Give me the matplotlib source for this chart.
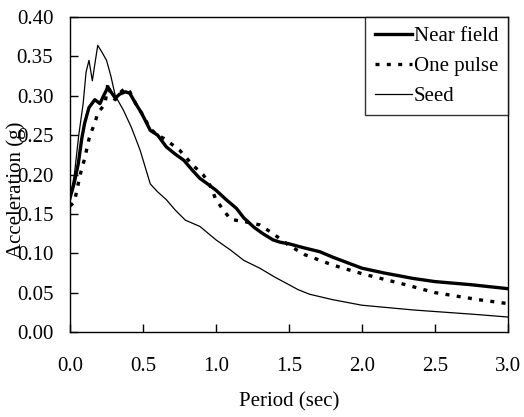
import matplotlib
matplotlib.use("Agg")
import matplotlib.pyplot as plt

plt.rcParams['font.family'] = ['Liberation Serif', 'DejaVu Serif']

# Near field
near_t = [0.0, 0.03, 0.057, 0.08, 0.10, 0.13, 0.15, 0.17, 0.205, 0.23, 0.26, 0.28, 0.31, 0.34, 0.38, 0.41,
          0.45, 0.49, 0.55, 0.60, 0.66, 0.72, 0.78, 0.84, 0.89, 0.95, 1.0, 1.07, 1.14, 1.19, 1.26, 1.32,
          1.39, 1.44, 1.5, 1.6, 1.71, 1.8, 1.9, 2.0, 2.15, 2.35, 2.5, 2.75, 3.0]
near_a = [0.17, 0.19, 0.214, 0.245, 0.265, 0.285, 0.29, 0.295, 0.29, 0.30, 0.311, 0.305, 0.297, 0.302, 0.305, 0.303,
          0.29, 0.278, 0.256, 0.25, 0.235, 0.226, 0.218, 0.205, 0.195, 0.187, 0.180, 0.168, 0.157, 0.145, 0.133, 0.125,
          0.117, 0.114, 0.112, 0.107, 0.102, 0.095, 0.088, 0.081, 0.075, 0.068, 0.064, 0.060, 0.055]

# One pulse
pulse_t = [0.0, 0.03, 0.07, 0.10, 0.13, 0.15, 0.17, 0.19, 0.22, 0.24, 0.26, 0.28, 0.31, 0.35, 0.38, 0.41,
           0.45, 0.5, 0.55, 0.6, 0.64, 0.7, 0.75, 0.84, 0.91, 0.95, 1.0, 1.05, 1.10, 1.2, 1.30, 1.39,
           1.5, 1.61, 1.8, 2.0, 2.3, 2.5, 2.8, 3.0]
pulse_a = [0.16, 0.165, 0.20, 0.22, 0.245, 0.256, 0.265, 0.278, 0.285, 0.29, 0.316, 0.30, 0.295, 0.305, 0.31, 0.305,
           0.29, 0.275, 0.258, 0.25, 0.246, 0.238, 0.231, 0.212, 0.20, 0.19, 0.168, 0.155, 0.143, 0.14, 0.136, 0.125,
           0.11, 0.098, 0.085, 0.074, 0.060, 0.050, 0.041, 0.036]

# Seed
seed_t = [0.0, 0.03, 0.06, 0.09, 0.11, 0.13, 0.153, 0.17, 0.19, 0.22, 0.25, 0.28, 0.31, 0.365, 0.42, 0.48,
          0.55, 0.60, 0.66, 0.72, 0.79, 0.89, 1.0, 1.1, 1.19, 1.3, 1.4, 1.48, 1.56, 1.64, 1.8, 2.0,
          2.35, 2.8, 3.0]
seed_a = [0.17, 0.20, 0.25, 0.29, 0.33, 0.345, 0.319, 0.34, 0.364, 0.355, 0.345, 0.325, 0.30, 0.282, 0.26, 0.231,
          0.188, 0.178, 0.168, 0.155, 0.142, 0.134, 0.117, 0.104, 0.091, 0.081, 0.070, 0.062, 0.054, 0.048, 0.041, 0.034,
          0.028, 0.022, 0.019]

xticks = [0.0, 0.5, 1.0, 1.5, 2.0, 2.5, 3.0]
xtick_labels = ['0.0', '0.5', '1.0', '1.5', '2.0', '2.5', '3.0']
yticks = [0.00, 0.05, 0.10, 0.15, 0.20, 0.25, 0.30, 0.35, 0.40]
ytick_labels = ['0.00', '0.05', '0.10', '0.15', '0.20', '0.25', '0.30', '0.35', '0.40']

fig = plt.figure(figsize=(5.24, 4.17), dpi=100)
ax = fig.add_axes([70/524, 85/417, 438/524, 315/417])

ax.plot(near_t, near_a, color='black', lw=2.4, label='Near field', solid_joinstyle='round')
ax.plot(pulse_t, pulse_a, color='black', lw=2.4, linestyle=(0, (1.2, 2.2)), label='One pulse')
ax.plot(seed_t, seed_a, color='black', lw=0.9, label='Seed')

ax.set_xlim(0, 3.0)
ax.set_ylim(0, 0.40)
ax.set_xticks(xticks)
ax.set_xticklabels(xtick_labels)
ax.set_yticks(yticks)
ax.set_yticklabels(ytick_labels)
ax.tick_params(direction='in', length=6, width=1, labelsize=15, colors='black')
ax.tick_params(axis='x', pad=18)
ax.tick_params(axis='y', pad=12)
for s in ax.spines.values():
    s.set_linewidth(1.0)
    s.set_color('black')

ax.set_xlabel('Period (sec)', fontsize=15, labelpad=12)
ax.set_ylabel('Acceleration (g)', fontsize=15)
ax.yaxis.set_label_coords(-0.1, 0.45)

leg = ax.legend(loc='upper right', bbox_to_anchor=(1.0, 1.0), borderaxespad=0, fontsize=15,
                handlelength=1.8, handletextpad=0.1, borderpad=0.45, labelspacing=0.5,
                fancybox=False, frameon=True, edgecolor='black')
leg.get_frame().set_linewidth(1.0)

fig.savefig('out.png', dpi=100)
